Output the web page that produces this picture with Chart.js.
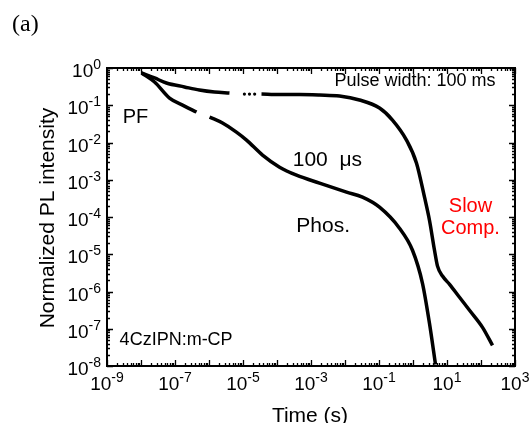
<!DOCTYPE html>
<html>
<head>
<meta charset="utf-8">
<script src="https://cdn.jsdelivr.net/npm/chart.js@4.4.1/dist/chart.umd.min.js"></script>
<style>
  html, body { margin: 0; padding: 0; background: #fff; }
  #wrap { width: 530px; height: 423px; }
</style>
</head>
<body>
<div id="wrap"><canvas id="plChart" width="530" height="423"></canvas></div>
<script>
// dati (tempo in s, intensita' normalizzata)
var slowTime = [1.04e-8, 2.5e-8, 5.6e-8, 1.9e-7, 5.2e-7, 1.45e-6, 4.0e-6, null,
  3.5e-5, 1.19e-4, 4.6e-4, 1.78e-3, 6.9e-3, 0.0267, 0.1035, 0.249, 0.644, 1.27,
  2.18, 3.05, 4.29, 5.26, 7.38, 11.9, 23.3, 45.9, 110.7, 217.8];
var slowInt = [0.735, 0.54, 0.395, 0.31, 0.256, 0.226, 0.213, null,
  0.20, 0.194, 0.194, 0.188, 0.177, 0.138, 0.084, 0.04, 0.0116, 2.79e-3,
  3.4e-4, 8.2e-5, 1.28e-5, 4.8e-6, 2.6e-6, 1.56e-6, 7.0e-7, 3.13e-7, 1.09e-7, 3.58e-8];

var dotsTime = [1.1e-5, 1.55e-5, 2.2e-5];
var dotsInt = [0.20, 0.20, 0.20];

var phosTime = [1.04e-8, 2.5e-8, 6.9e-8, 1.9e-7, 4.3e-7, null,
  1.04e-6, 2.5e-6, 6.4e-6, 1.27e-5, 3.75e-5, 1.19e-4, 3.75e-4, 1.78e-3, 0.0111,
  0.0327, 0.1035, 0.40, 0.966, 1.9, 3.05, 4.59];
var phosInt = [0.735, 0.42, 0.156, 0.095, 0.0657, null,
  0.0482, 0.0332, 0.019, 0.0116, 4.6e-3, 2.18e-3, 1.33e-3, 8.1e-4, 4.65e-4,
  3.4e-4, 1.83e-4, 5.0e-5, 1.28e-5, 1.66e-6, 1.4e-7, 1.1e-8];

// esponenti delle etichette degli assi
var xExp = [-9, -7, -5, -3, -1, 1, 3];
var yExp = [0, -1, -2, -3, -4, -5, -6, -7, -8];

// scritte dentro al grafico
var notes = [
  { text: "Pulse width: 100 ms", x: 4.9e-3, y: 0.46, size: 18, color: "#000", align: "left" },
  { text: "PF", x: 2.9e-9, y: 0.048, size: 20, color: "#000", align: "left" },
  { text: "100  \u03bcs", x: 2.9e-4, y: 3.4e-3, size: 21, color: "#000", align: "left" },
  { text: "Phos.", x: 3.7e-4, y: 5.6e-5, size: 21, color: "#000", align: "left" },
  { text: "Slow", x: 49, y: 1.95e-4, size: 20, color: "#ff0000", align: "center" },
  { text: "Comp.", x: 49, y: 5.0e-5, size: 20, color: "#ff0000", align: "center" },
  { text: "4CzIPN:m-CP", x: 2.35e-9, y: 4.9e-8, size: 18, color: "#000", align: "left" }
];

function toPoints(xs, ys) {
  var pts = [];
  for (var i = 0; i < xs.length; i++) {
    if (xs[i] === null) {
      pts.push({ x: pts[pts.length - 1].x * 1.5, y: null });
    } else {
      pts.push({ x: xs[i], y: ys[i] });
    }
  }
  return pts;
}

var FONT = "'Liberation Sans', Arial, sans-serif";

// funzione per scrivere 10 con l'esponente
function drawPow(ctx, px, py, exp, align) {
  ctx.font = "19px " + FONT;
  var wBase = ctx.measureText("10").width;
  ctx.font = "14px " + FONT;
  var wExp = ctx.measureText(String(exp)).width;
  var total = wBase + wExp;
  var start = align === "right" ? px - total : px - total / 2;
  ctx.textAlign = "left";
  ctx.textBaseline = "alphabetic";
  ctx.font = "19px " + FONT;
  ctx.fillText("10", start, py);
  ctx.font = "14px " + FONT;
  ctx.fillText(String(exp), start + wBase, py - 8);
}

var framePlugin = {
  id: "frame",
  afterDraw: function(chart) {
    var ctx = chart.ctx;
    var a = chart.chartArea;
    var x = chart.scales.x;
    var y = chart.scales.y;
    ctx.save();
    ctx.strokeStyle = "#000";
    ctx.fillStyle = "#000";

    // tacche verso l'interno su tutti i lati
    ctx.lineWidth = 1.3;
    ctx.beginPath();
    for (var e = -9; e <= 3; e++) {
      for (var m = 1; m < 10; m++) {
        if (e === 3 && m > 1) break;
        var px = Math.round(x.getPixelForValue(m * Math.pow(10, e))) + 0.5;
        var len = m === 1 ? 6 : 3;
        ctx.moveTo(px, a.bottom); ctx.lineTo(px, a.bottom - len);
        ctx.moveTo(px, a.top); ctx.lineTo(px, a.top + len);
      }
    }
    for (var e2 = -8; e2 <= 0; e2++) {
      for (var m2 = 1; m2 < 10; m2++) {
        if (e2 === 0 && m2 > 1) break;
        var py = Math.round(y.getPixelForValue(m2 * Math.pow(10, e2))) + 0.5;
        var len2 = m2 === 1 ? 6 : 3;
        ctx.moveTo(a.left, py); ctx.lineTo(a.left + len2, py);
        ctx.moveTo(a.right, py); ctx.lineTo(a.right - len2, py);
      }
    }
    ctx.stroke();

    ctx.lineWidth = 2;
    ctx.strokeRect(a.left, a.top, a.width, a.height);

    // etichette degli assi
    xExp.forEach(function(ex) {
      drawPow(ctx, x.getPixelForValue(Math.pow(10, ex)), a.bottom + 24, ex, "center");
    });
    yExp.forEach(function(ex) {
      drawPow(ctx, a.left - 6, y.getPixelForValue(Math.pow(10, ex)) + 9, ex, "right");
    });

    // titoli
    ctx.font = "21px " + FONT;
    ctx.textAlign = "center";
    ctx.textBaseline = "alphabetic";
    ctx.fillText("Time (s)", (a.left + a.right) / 2 - 1, 422);
    ctx.save();
    ctx.translate(48, (a.top + a.bottom) / 2 + 1);
    ctx.rotate(-Math.PI / 2);
    ctx.textBaseline = "middle";
    ctx.fillText("Normalized PL intensity", 0, 0);
    ctx.restore();

    ctx.font = "24px 'Liberation Serif', 'Times New Roman', serif";
    ctx.textAlign = "left";
    ctx.fillText("(a)", 12, 31);

    // annotazioni
    notes.forEach(function(n) {
      ctx.font = n.size + "px " + FONT;
      ctx.fillStyle = n.color;
      ctx.textAlign = n.align;
      ctx.textBaseline = "middle";
      ctx.fillText(n.text, x.getPixelForValue(n.x), y.getPixelForValue(n.y));
    });
    ctx.restore();
  }
};

function init() {
  var ctx = document.getElementById("plChart").getContext("2d");
  var myChart = new Chart(ctx, {
    type: "line",
    data: {
      datasets: [{
        label: "Slow Comp.",
        data: toPoints(slowTime, slowInt),
        borderColor: "#000",
        borderWidth: 3.5,
        pointRadius: 0,
        cubicInterpolationMode: "monotone",
        spanGaps: false
      }, {
        label: "dots",
        data: toPoints(dotsTime, dotsInt),
        borderColor: "#000",
        backgroundColor: "#000",
        showLine: false,
        pointRadius: 1.6,
        pointBorderWidth: 0
      }, {
        label: "Phos.",
        data: toPoints(phosTime, phosInt),
        borderColor: "#000",
        borderWidth: 3.5,
        pointRadius: 0,
        cubicInterpolationMode: "monotone",
        spanGaps: false
      }]
    },
    options: {
      responsive: false,
      animation: false,
      layout: { padding: { left: 107, right: 15, top: 68, bottom: 57 } },
      plugins: { legend: { display: false }, tooltip: { enabled: false } },
      scales: {
        x: { type: "logarithmic", display: false, min: 1e-9, max: 1e3 },
        y: { type: "logarithmic", display: false, min: 1e-8, max: 1 }
      }
    },
    plugins: [framePlugin]
  });
}

init();
</script>
</body>
</html>
